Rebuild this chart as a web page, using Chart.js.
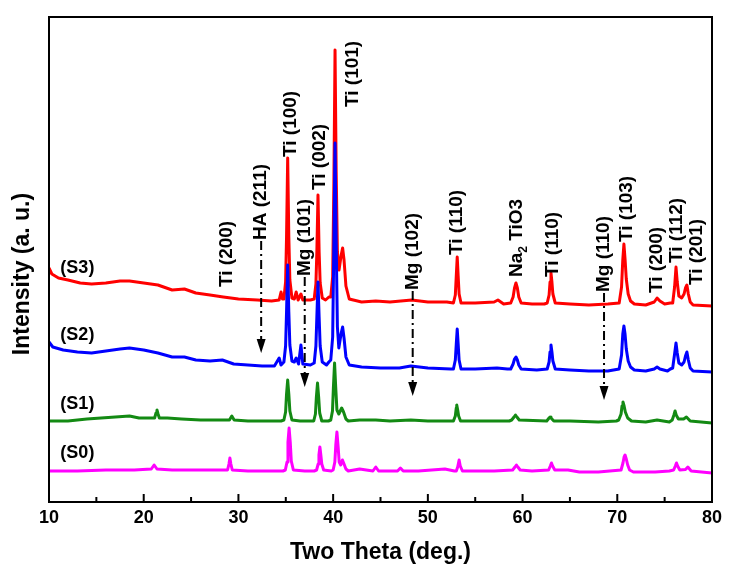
<!DOCTYPE html>
<html>
<head>
<meta charset="utf-8">
<title>XRD patterns S0-S3</title>
<script src="https://cdn.jsdelivr.net/npm/chart.js"></script>
<style>
  body { margin: 0; background: #fff; }
  #wrap { width: 731px; height: 577px; }
</style>
</head>
<body>
<div id="wrap"><canvas id="myChart" width="731" height="577"></canvas></div>
<script>
// 2-theta (deg) / intensity (a.u., stacked)
const s3 = [
  [10.0,2340],[10.3,2280],[11.0,2240],[12.0,2220],[13.3,2190],[14.5,2180],[16.0,2190],[17.5,2210],[18.5,2210],
  [20.0,2190],[21.5,2170],[23.0,2120],[24.3,2130],[25.5,2090],[27.0,2070],[28.4,2050],[30.0,2030],[32.0,2020],
  [33.5,2010],[34.3,2020],[34.5,2100],[34.65,2030],
  [34.8,2030],[34.98,2200],[35.08,2650],[35.2,3440],[35.32,2650],[35.43,2220],[35.65,2040],
  [35.9,2030],[36.1,2100],[36.3,2020],[36.6,2080],[36.8,2020],[37.6,2020],
  [38.0,2030],[38.18,2180],[38.28,2500],[38.4,3070],[38.52,2500],[38.63,2190],[38.85,2040],[39.2,2020],[39.55,2050],
  [39.75,2050],[39.95,2250],[40.08,3200],[40.2,4520],[40.32,3300],[40.45,2500],[40.62,2320],[40.85,2470],[41.0,2540],
  [41.15,2420],[41.35,2160],[41.7,2030],
  [43.0,2000],[44.5,2010],[46.0,2000],[48.3,2020],[50.0,2000],[52.0,2000],
  [52.7,1990],[52.9,2070],[53.0,2260],[53.1,2450],[53.2,2260],[53.3,2080],[53.5,1990],
  [55.0,1990],[57.0,2000],[57.4,2020],[58.0,1980],
  [58.75,1990],[59.0,2050],[59.15,2140],[59.3,2190],[59.45,2140],[59.6,2050],[59.85,1990],
  [61.0,1980],[62.3,1980],
  [62.6,1990],[62.8,2070],[62.9,2200],[63.0,2290],[63.1,2200],[63.2,2080],[63.45,1990],
  [65.0,1980],[67.0,1970],[69.0,1980],
  [70.2,1990],[70.45,2150],[70.58,2420],[70.7,2580],[70.82,2430],[70.95,2230],[71.15,2080],[71.4,2010],[71.8,1980],
  [73.0,1970],[73.9,2000],[74.2,2040],[74.5,2010],[75.0,1980],[75.6,1990],
  [75.85,1990],[76.05,2150],[76.2,2350],[76.33,2200],[76.5,2060],[76.8,2040],
  [77.05,2080],[77.2,2140],[77.35,2170],[77.5,2080],[77.7,2000],[78.0,1970],[80.0,1960]
];
const s2 = [
  [10.0,1600],[10.4,1550],[11.5,1520],[13.0,1500],[14.5,1490],[16.0,1510],[17.5,1530],[18.5,1540],[20.0,1520],
  [21.5,1490],[23.0,1450],[24.3,1450],[25.5,1420],[27.0,1410],[28.3,1420],[29.5,1380],[31.0,1370],[32.5,1360],
  [33.8,1360],[34.3,1440],[34.5,1370],
  [34.8,1400],[34.98,1560],[35.08,1900],[35.2,2370],[35.32,1900],[35.43,1570],[35.65,1410],
  [35.9,1400],[36.1,1440],[36.35,1380],[36.6,1570],[36.8,1380],[37.6,1370],
  [38.0,1390],[38.18,1560],[38.28,1850],[38.4,2200],[38.52,1850],[38.63,1560],[38.85,1400],[39.3,1370],[39.55,1400],
  [39.75,1420],[39.95,1650],[40.08,2600],[40.2,3590],[40.32,2600],[40.45,1750],[40.6,1540],[40.85,1690],[41.0,1750],
  [41.15,1640],[41.35,1450],[41.7,1370],
  [43.0,1350],[45.0,1340],[47.0,1340],[48.2,1360],[50.0,1340],[52.4,1330],
  [52.7,1330],[52.9,1420],[53.0,1580],[53.1,1730],[53.2,1580],[53.3,1420],[53.5,1330],
  [55.0,1330],[57.3,1340],[58.4,1330],
  [58.75,1330],[59.0,1380],[59.15,1430],[59.3,1450],[59.45,1420],[59.6,1370],[59.85,1330],
  [61.5,1320],
  [62.6,1330],[62.8,1400],[62.9,1500],[63.0,1570],[63.1,1500],[63.2,1410],[63.45,1330],
  [65.0,1320],[67.0,1310],[69.0,1310],
  [70.2,1330],[70.45,1470],[70.58,1680],[70.7,1760],[70.82,1680],[70.95,1530],[71.15,1410],[71.4,1350],[71.8,1320],
  [73.0,1310],[73.9,1330],[74.2,1350],[74.5,1330],[75.3,1310],[75.6,1330],
  [75.85,1340],[76.05,1480],[76.2,1590],[76.33,1490],[76.5,1390],[76.8,1370],
  [77.05,1400],[77.2,1460],[77.35,1500],[77.5,1420],[77.7,1340],[78.0,1310],[80.0,1300]
];
const s1 = [
  [10.0,810],[12.0,810],[14.0,830],[15.5,840],[17.0,850],[18.5,860],[19.5,840],[20.8,840],
  [21.15,840],[21.3,890],[21.4,920],[21.5,885],[21.65,840],[22.5,840],[24.0,830],[26.0,820],[28.0,820],
  [29.05,820],[29.3,860],[29.55,820],[31.0,810],[33.0,810],[34.5,810],
  [34.8,820],[34.98,900],[35.08,1080],[35.2,1220],[35.32,1080],[35.43,910],[35.65,820],
  [36.5,810],[37.5,810],
  [37.95,810],[38.13,880],[38.23,1050],[38.35,1190],[38.47,1050],[38.58,890],[38.8,810],[39.5,810],
  [39.75,820],[39.93,910],[40.03,1150],[40.15,1390],[40.27,1150],[40.4,920],[40.6,880],[40.9,940],[41.1,900],
  [41.35,830],[41.6,810],
  [42.8,820],[44.5,820],[46.0,810],[48.2,820],[50.0,810],[52.4,810],
  [52.7,810],[52.9,860],[53.0,940],[53.05,970],[53.15,920],[53.25,860],[53.45,810],
  [55.0,810],[57.0,810],[58.6,810],
  [58.85,820],[59.1,850],[59.25,870],[59.4,850],[59.65,820],
  [62.55,810],[62.8,840],[62.9,850],[63.0,840],[63.3,810],
  [65.0,810],[68.0,800],[69.9,810],
  [70.15,820],[70.4,880],[70.5,960],[70.6,1000],[70.72,960],[70.85,900],[71.1,840],[71.5,810],
  [73.0,800],[74.2,820],[75.5,800],
  [75.8,820],[75.98,870],[76.1,910],[76.22,870],[76.45,830],
  [77.0,830],[77.15,840],[77.3,850],[77.45,835],[77.7,810],[80.0,790]
];
const s0 = [
  [10.0,310],[13.0,310],[16.0,320],[19.0,320],
  [20.8,330],[20.95,350],[21.1,370],[21.25,350],[21.4,330],[23.0,320],[25.0,320],[27.0,320],
  [28.85,320],[29.0,380],[29.1,440],[29.2,380],[29.35,320],[31.0,310],[33.0,310],[34.7,310],
  [34.95,320],[35.13,400],[35.23,600],[35.35,740],[35.47,600],[35.58,410],[35.8,320],
  [37.0,310],[38.0,310],
  [38.25,320],[38.42,380],[38.5,470],[38.6,550],[38.7,470],[38.8,380],[39.0,320],[39.8,310],
  [40.0,320],[40.18,400],[40.28,570],[40.4,700],[40.52,560],[40.64,400],[40.8,370],[40.98,420],[41.15,380],
  [41.35,330],[41.6,310],
  [42.8,330],[44.2,310],[44.5,350],[44.8,310],[46.8,310],[47.1,340],[47.4,310],[49.0,310],[51.8,330],[52.8,310],
  [53.0,310],[53.15,350],[53.3,420],[53.42,360],[53.65,310],
  [57.0,310],[58.95,320],[59.2,350],[59.35,370],[59.5,350],[59.75,320],
  [61.0,310],[62.75,320],[62.93,360],[63.05,390],[63.17,360],[63.4,320],
  [64.8,320],[66.0,300],[68.0,300],
  [70.4,320],[70.6,390],[70.72,450],[70.82,470],[70.95,430],[71.1,370],[71.3,320],[71.7,300],
  [74.0,300],[75.5,310],
  [75.95,320],[76.13,360],[76.25,390],[76.37,360],[76.6,320],
  [77.2,325],[77.35,340],[77.45,350],[77.58,335],[77.8,310],[80.0,290]
];

const seriesNames = ['(S0)', '(S1)', '(S2)', '(S3)'];
const seriesColors = ['#ff00ff', '#138a13', '#0000ff', '#ff0000'];
const seriesLabelX = [11.2, 11.2, 11.2, 11.2];
const seriesLabelY = [490, 980, 1670, 2340];

// reflections: label, 2-theta, intensity where the text starts, arrow tip (null = no arrow)
const peakLabels = ['Ti (200)', 'HA (211)', 'Ti (100)', 'Mg (101)', 'Ti (002)', 'Ti (101)', 'Mg (102)', 'Ti (110)',
  'Na_2 TiO3', 'Ti (110)', 'Mg (110)', 'Ti (103)', 'Ti (200)', 'Ti (112)', 'Ti (201)'];
const peakPos = [28.8, 32.4, 35.5, 37.0, 38.6, 42.1, 48.4, 53.0, 59.4, 63.2, 68.6, 71.0, 74.2, 76.3, 78.4];
const peakTextY = [2150, 2620, 3450, 2260, 3120, 3950, 2120, 2470, 2250, 2250, 2100, 2600, 2090, 2390, 2170];
const arrowTip = [null, 1490, null, 1150, null, null, 1060, null, null, null, 1020, null, null, null, null];

const xTicks = [10, 20, 30, 40, 50, 60, 70, 80];
const yTitle = 'Intensity (a. u.)';

const fuente = '"Liberation Sans", Arial, sans-serif';

function dibujarTextoVertical(ctx, txt, x, y, size, align) {
  ctx.save();
  ctx.translate(x, y);
  ctx.rotate(-Math.PI / 2);
  ctx.textAlign = align || 'left';
  ctx.textBaseline = 'middle';
  ctx.font = 'bold ' + size + 'px ' + fuente;
  const partes = txt.split('_');
  if (partes.length === 1) {
    ctx.fillText(txt, 0, 0);
  } else {
    // subindice: el caracter despues de "_"
    ctx.fillText(partes[0], 0, 0);
    let w = ctx.measureText(partes[0]).width;
    ctx.font = 'bold ' + Math.round(size * 0.65) + 'px ' + fuente;
    ctx.fillText(partes[1].charAt(0), w, size * 0.35);
    w += ctx.measureText(partes[1].charAt(0)).width;
    ctx.font = 'bold ' + size + 'px ' + fuente;
    ctx.fillText(partes[1].slice(1), w, 0);
  }
  ctx.restore();
}

const extras = {
  id: 'extras',
  afterDatasetsDraw(chart) {
    const ctx = chart.ctx;
    const xs = chart.scales.x, ys = chart.scales.y;
    const a = chart.chartArea;
    ctx.save();
    ctx.fillStyle = '#000';
    ctx.strokeStyle = '#000';

    // marco + ticks hacia dentro
    ctx.lineWidth = 2;
    ctx.strokeRect(a.left, a.top, a.right - a.left, a.bottom - a.top);
    for (let v = 10; v <= 80; v += 5) {
      const px = xs.getPixelForValue(v);
      const len = v % 10 === 0 ? 8 : 5;
      ctx.beginPath();
      ctx.moveTo(px, a.bottom);
      ctx.lineTo(px, a.bottom - len);
      ctx.stroke();
    }

    // titulo del eje y (un poco por debajo del centro, como en el original)
    dibujarTextoVertical(ctx, yTitle, 23, ys.getPixelForValue(2280), 23, 'center');

    // nombres de muestras
    ctx.font = 'bold 18px ' + fuente;
    ctx.textAlign = 'left';
    ctx.textBaseline = 'middle';
    seriesNames.forEach((n, i) => {
      ctx.fillText(n, xs.getPixelForValue(seriesLabelX[i]), ys.getPixelForValue(seriesLabelY[i]));
    });

    // etiquetas de picos y flechas punto-raya
    peakLabels.forEach((lab, i) => {
      const px = xs.getPixelForValue(peakPos[i]);
      const py = ys.getPixelForValue(peakTextY[i]);
      dibujarTextoVertical(ctx, lab, px, py, 19);
      if (arrowTip[i] !== null) {
        const tip = ys.getPixelForValue(arrowTip[i]);
        ctx.lineWidth = 2;
        ctx.setLineDash([9, 4, 2, 4]);
        ctx.beginPath();
        ctx.moveTo(px, py + 1);
        ctx.lineTo(px, tip - 12);
        ctx.stroke();
        ctx.setLineDash([]);
        ctx.beginPath();
        ctx.moveTo(px - 4.5, tip - 14);
        ctx.lineTo(px + 4.5, tip - 14);
        ctx.lineTo(px, tip);
        ctx.closePath();
        ctx.fill();
      }
    });
    ctx.restore();
  }
};

const datos = [s0, s1, s2, s3];

const ctx = document.getElementById('myChart').getContext('2d');
new Chart(ctx, {
  type: 'line',
  data: {
    datasets: datos.map((s, i) => ({
      label: seriesNames[i],
      data: s.map(p => ({x: p[0], y: p[1]})),
      borderColor: seriesColors[i],
      borderWidth: 3,
      pointRadius: 0,
      tension: 0,
      fill: false,
      borderJoinStyle: 'round'
    }))
  },
  options: {
    responsive: false,
    animation: false,
    events: [],
    layout: {padding: {left: 0, right: 19, top: 17, bottom: 0}},
    plugins: {legend: {display: false}, tooltip: {enabled: false}},
    scales: {
      x: {
        type: 'linear',
        min: 10,
        max: 80,
        afterFit: s => { s.height = 75; },
        afterBuildTicks: s => { s.ticks = xTicks.map(v => ({value: v})); },
        grid: {display: false, drawTicks: false},
        border: {display: false},
        ticks: {
          color: '#000',
          padding: 5,
          maxRotation: 0,
          autoSkip: false,
          font: {family: fuente, size: 18, weight: 'bold'}
        },
        title: {
          display: true,
          text: 'Two Theta (deg.)',
          color: '#000',
          padding: {top: 0, bottom: 11},
          font: {family: fuente, size: 23, weight: 'bold'}
        }
      },
      y: {
        min: 0,
        max: 4850,
        afterFit: s => { s.width = 49; },
        grid: {display: false, drawTicks: false},
        border: {display: false},
        ticks: {display: false},
        title: {display: false}
      }
    }
  },
  plugins: [extras]
});
</script>
</body>
</html>
